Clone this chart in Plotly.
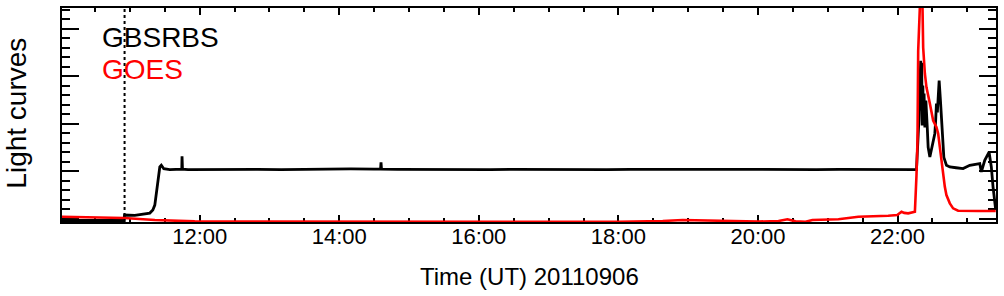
import plotly.graph_objects as go

DATE = "2011-09-06 "

# GBSRBS light curve (arbitrary units)
gbs_time = ["10:01:36", "10:25:37", "10:54:48", "10:55:24", "11:04:12", "11:17:06", "11:19:42",
            "11:21:24", "11:22:51", "11:24:12", "11:25:42", "11:27:00", "11:29:06", "11:34:18",
            "11:44:36", "11:44:48", "11:45:12", "11:50:00", "12:10:00", "12:30:00", "12:50:00",
            "13:10:00", "13:30:00", "13:50:00", "14:10:00", "14:30:00", "14:35:30", "14:35:54",
            "14:36:18", "14:50:00", "15:10:00", "15:30:00", "15:50:00", "16:10:00", "16:30:00",
            "16:50:00", "17:10:00", "17:30:00", "17:50:00", "18:10:00", "18:30:00", "18:50:00",
            "19:10:00", "19:30:00", "19:50:00", "20:10:00", "20:30:00", "20:50:00", "21:10:00",
            "21:30:00", "21:50:00", "22:10:00", "22:16:18", "22:18:22", "22:19:29", "22:19:54",
            "22:20:20", "22:20:46", "22:21:11", "22:21:47", "22:22:18", "22:22:49", "22:23:31",
            "22:24:22", "22:25:29", "22:26:20", "22:27:48", "22:29:10", "22:30:38", "22:32:05",
            "22:32:47", "22:33:28", "22:34:14", "22:34:55", "22:35:47", "22:36:54", "22:38:21",
            "22:39:49", "22:42:02", "22:44:58", "22:50:22", "22:56:22", "23:02:07", "23:06:40",
            "23:10:42", "23:12:04", "23:14:59", "23:18:41", "23:20:39", "23:22:07", "23:23:34",
            "23:24:26"]
gbs_value = [-0.042, -0.048, -0.042, 0.073, 0.067, 0.115, 0.178,
             0.283, 0.597, 0.870, 1.086, 1.122, 1.048, 1.031,
             1.038, 1.310, 1.038, 1.030, 1.036, 1.028, 1.034,
             1.030, 1.038, 1.040, 1.045, 1.042, 1.040, 1.184,
             1.040, 1.036, 1.032, 1.038, 1.034, 1.030, 1.036,
             1.032, 1.028, 1.034, 1.030, 1.036, 1.032, 1.034,
             1.030, 1.033, 1.036, 1.030, 1.034, 1.031, 1.035,
             1.030, 1.033, 1.031, 1.031, 2.065, 2.904, 3.323,
             2.275, 3.281, 1.960, 2.799, 2.023, 2.631, 1.918,
             2.484, 1.960, 1.499, 1.296, 1.436, 1.646, 1.792,
             2.065, 2.421, 2.233, 2.631, 2.904, 2.484, 1.792,
             1.289, 1.122, 1.086, 1.069, 1.052, 1.122, 1.143,
             1.157, 0.981, 1.226, 1.400, 1.086, 0.667, 0.247,
             0.178]

# GOES light curve (arbitrary units)
goes_time = ["10:01:36", "10:34:12", "10:54:48", "11:21:24", "11:55:43", "12:42:54", "14:00:07",
             "16:00:00", "18:00:00", "18:38:06", "18:55:18", "20:00:30", "20:17:38", "20:25:22",
             "20:32:13", "20:40:48", "20:46:48", "21:09:07", "21:26:17", "21:52:00", "21:59:45",
             "22:03:26", "22:05:45", "22:09:11", "22:14:56", "22:16:18", "22:17:10", "22:17:46",
             "22:18:37", "22:19:54", "22:21:27", "22:22:03", "22:23:31", "22:24:53", "22:27:48",
             "22:30:38", "22:33:28", "22:34:55", "22:36:23", "22:37:45", "22:39:13", "22:40:40",
             "22:42:02", "22:44:58", "22:47:47", "22:52:05", "23:09:14", "23:24:26"]
goes_value = [0.038, 0.021, 0.010, -0.031, -0.060, -0.066, -0.068,
              -0.069, -0.068, -0.052, -0.031, -0.064, -0.052, -0.017,
              -0.060, -0.070, -0.031, -0.017, 0.038, 0.057, 0.073,
              0.143, 0.119, 0.109, 0.143, 0.912, 1.646, 3.532,
              4.476, 4.895, 4.476, 3.602, 3.050, 2.763, 2.421,
              2.065, 1.925, 1.792, 1.505, 1.226, 0.954, 0.667,
              0.493, 0.319, 0.214, 0.164, 0.157, 0.157]

marker_time = "10:55:24"
x_range = ["10:01:36", "23:24:40"]
y_range = [-0.0734, 4.434]

series_names = ["GBSRBS", "GOES"]
series_colors = ["#000000", "#ff0000"]

FONT = "Liberation Sans, Arial, Helvetica, sans-serif"

fig = go.Figure()
fig.add_trace(go.Scatter(x=[DATE + t for t in gbs_time], y=gbs_value, mode="lines",
                         line=dict(color=series_colors[0], width=2.8), name=series_names[0]))
fig.add_trace(go.Scatter(x=[DATE + t for t in goes_time], y=goes_value, mode="lines",
                         line=dict(color=series_colors[1], width=2.6), name=series_names[1]))

fig.add_shape(type="line", xref="x", yref="paper", x0=DATE + marker_time, x1=DATE + marker_time,
              y0=0, y1=1, line=dict(color="black", width=2, dash="3px,3px"))

fig.add_annotation(text=series_names[0], xref="paper", yref="paper", x=0.0406, y=0.8605,
                   xanchor="left", yanchor="middle", showarrow=False,
                   font=dict(family=FONT, size=28, color=series_colors[0]))
fig.add_annotation(text=series_names[1], xref="paper", yref="paper", x=0.0406, y=0.714,
                   xanchor="left", yanchor="middle", showarrow=False,
                   font=dict(family=FONT, size=28, color=series_colors[1]))
fig.add_annotation(text="Time (UT) 20110906", xref="paper", yref="paper", x=0.5, y=-0.256,
                   xanchor="center", yanchor="middle", showarrow=False,
                   font=dict(family=FONT, size=24, color="black"))
fig.add_annotation(text="Light curves", xref="paper", yref="paper", x=-0.0484, y=0.51,
                   xanchor="center", yanchor="middle", showarrow=False, textangle=-90,
                   font=dict(family=FONT, size=28, color="black"))

fig.update_layout(
    width=1004, height=296,
    margin=dict(l=62, r=6, t=7, b=74),
    paper_bgcolor="white", plot_bgcolor="white",
    showlegend=False,
    font=dict(family=FONT, color="black"),
)
fig.update_xaxes(
    type="date", range=[DATE + x_range[0], DATE + x_range[1]],
    tick0=DATE + "00:00:00", dtick=2 * 3600 * 1000, tickformat="%H:%M",
    ticks="inside", ticklen=7, tickwidth=2, tickcolor="black",
    minor=dict(dtick=30 * 60 * 1000, ticks="inside", ticklen=4, tickwidth=2, tickcolor="black"),
    showline=True, linewidth=2, linecolor="black", mirror="allticks",
    showgrid=False, zeroline=False, layer="below traces",
    tickfont=dict(family=FONT, size=22, color="black"),
    ticklabelstandoff=-6,
)
fig.update_yaxes(
    range=y_range, tick0=0, dtick=1,
    ticks="inside", ticklen=17, tickwidth=2, tickcolor="black",
    minor=dict(dtick=0.2, ticks="inside", ticklen=8, tickwidth=2, tickcolor="black"),
    showticklabels=False,
    showline=True, linewidth=2, linecolor="black", mirror="allticks",
    showgrid=False, zeroline=False, layer="below traces",
)

fig.write_html("out.html")
